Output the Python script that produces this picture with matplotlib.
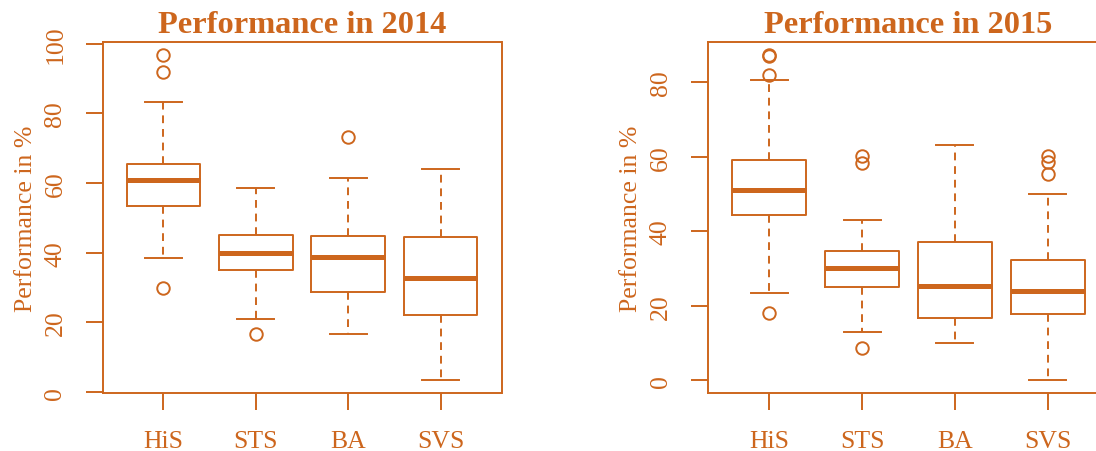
import matplotlib
matplotlib.use("Agg")
import matplotlib.pyplot as plt

categories = ["HiS", "STS", "BA", "SVS"]

# Five-number summaries and outlying scores, 2014
q1_2014 = [53.3, 35.2, 28.8, 22.2]
med_2014 = [60.8, 40.0, 38.8, 32.7]
q3_2014 = [65.5, 45.1, 44.9, 44.4]
whislo_2014 = [38.4, 20.9, 16.8, 3.4]
whishi_2014 = [83.2, 58.5, 61.6, 64.2]
fliers_2014 = [[30.0, 92.0, 96.7], [16.8], [73.3], []]
yticks_2014 = [0, 20, 40, 60, 80, 100]

# Five-number summaries and outlying scores, 2015
q1_2015 = [44.3, 25.1, 16.7, 17.7]
med_2015 = [51.1, 30.1, 25.4, 24.1]
q3_2015 = [59.3, 34.6, 37.2, 32.2]
whislo_2015 = [23.4, 12.9, 10.0, 0.0]
whishi_2015 = [80.7, 43.0, 63.3, 50.0]
fliers_2015 = [[18.1, 82.1, 87.0, 87.3], [8.8, 58.5, 60.3], [], [55.4, 58.7, 60.3]]
yticks_2015 = [0, 20, 40, 60, 80]

C = "#CD661D"
LW = 1.4
plt.rcParams["font.family"] = ["Liberation Serif", "DejaVu Serif"]

W, H = 1096, 452
fig = plt.figure(figsize=(W / 100, H / 100), dpi=100)


def stats_for(q1, med, q3, lo, hi, fl):
    return [dict(q1=a, med=b, q3=c, whislo=d, whishi=e, fliers=f, label=n)
            for a, b, c, d, e, f, n in zip(q1, med, q3, lo, hi, fl, categories)]


def panel(rect, stats, yticks, title):
    ax = fig.add_axes(rect)
    ax.bxp(stats, positions=range(1, len(categories) + 1), widths=0.8, capwidths=0.4,
           boxprops=dict(color=C, lw=LW),
           whiskerprops=dict(color=C, lw=LW, linestyle=(0, (4, 3))),
           capprops=dict(color=C, lw=LW),
           medianprops=dict(color=C, lw=3.6, solid_capstyle="butt"),
           flierprops=dict(marker="o", markerfacecolor="none", markeredgecolor=C,
                           markersize=9, markeredgewidth=LW, linestyle="none"))
    vals = [v for s in stats for v in [s["whislo"], s["whishi"]] + list(s["fliers"])]
    lo, hi = min(vals), max(vals)
    r = hi - lo
    ax.set_ylim(lo - 0.04 * r, hi + 0.04 * r)
    n = len(categories)
    ax.set_xlim(0.5 - 0.04 * n, n + 0.5 + 0.04 * n)
    ax.set_xticks(range(1, n + 1))
    ax.set_xticklabels(categories)
    ax.set_yticks(yticks)
    ax.set_yticklabels([str(t) for t in yticks], rotation=90, va="center")
    for sp in ax.spines.values():
        sp.set_color(C)
        sp.set_linewidth(LW)
    ax.tick_params(axis="both", colors=C, labelcolor=C, length=12, width=LW,
                   labelsize=18.5, direction="out")
    ax.tick_params(axis="x", pad=14.5)
    ax.tick_params(axis="y", pad=14)
    ax.set_ylabel("Performance in %", color=C, fontsize=18.5)
    ax.yaxis.set_label_coords(-0.165, 0.5)
    ax.set_title(title, color=C, fontsize=23.3, fontweight="bold", pad=7.5)
    return ax


bottom = (H - 394.3) / H
height = 351.0 / H
panel([102.5 / W, bottom, 399.0 / W, height],
      stats_for(q1_2014, med_2014, q3_2014, whislo_2014, whishi_2014, fliers_2014),
      yticks_2014, "Performance in 2014")
panel([708.0 / W, bottom, 401.0 / W, height],
      stats_for(q1_2015, med_2015, q3_2015, whislo_2015, whishi_2015, fliers_2015),
      yticks_2015, "Performance in 2015")

fig.savefig("out.png", dpi=100, facecolor="white")
